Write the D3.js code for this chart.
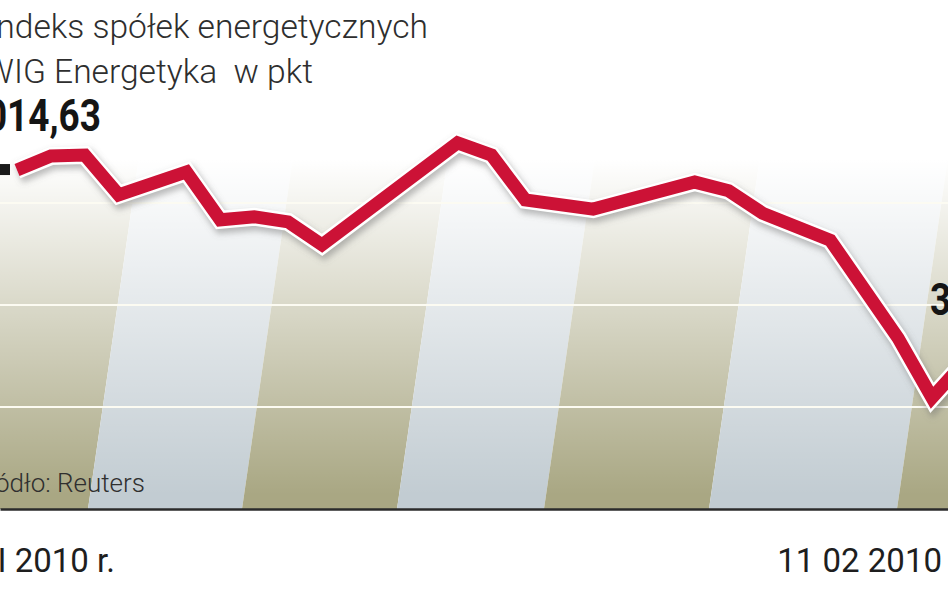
<!DOCTYPE html>
<html><head><meta charset="utf-8">
<script src="https://cdn.jsdelivr.net/npm/d3@7"></script>
<style>html,body{margin:0;padding:0;background:#fff;overflow:hidden}</style>
</head><body>
<svg id="chart" width="948" height="593"></svg>
<script>
// ---- data ----
const titleLines = ["Indeks spółek energetycznych", "WIG Energetyka  w pkt"];
const sourceText = "Źródło: Reuters";
const sessions = [0, 1, 2, 3, 5, 6, 7, 8, 9, 13, 14, 15, 17, 20, 21, 22, 24, 26, 27, 28];
const values = [4014.63, 4042, 4044, 3966, 4011, 3917, 3923, 3913, 3868, 4068, 4044, 3956, 3938, 3991, 3974, 3930, 3877, 3685, 3568, 3641.52];
const dateLabels = ["4 I 2010 r.", "11 02 2010"];
const gridValues = [3550, 3750, 3950];
const baseValue = 3350;

// ---- layout ----
const W = 948, H = 593;
const plotTop = 140, plotBottom = 509;
const stripeEdges = [-80, 88, 242, 397, 544, 709, 897, 1080];
const stripeSlant = 0.145;
const olive = "#a9a783", blue = "#c2ccd2", red = "#cc1236";

const svg = d3.select("#chart");
const defs = svg.append("defs");
const fade = defs.append("linearGradient").attr("id", "fade")
  .attr("gradientUnits", "userSpaceOnUse").attr("x1", 0).attr("x2", 0).attr("y1", 160).attr("y2", 495);
fade.append("stop").attr("offset", 0).attr("stop-color", "#fff").attr("stop-opacity", 1);
fade.append("stop").attr("offset", 1).attr("stop-color", "#fff").attr("stop-opacity", 0);
const blur = defs.append("filter").attr("id", "blur").attr("x", "-10%").attr("y", "-20%").attr("width", "120%").attr("height", "140%");
blur.append("feGaussianBlur").attr("stdDeviation", 3);
defs.append("clipPath").attr("id", "plotClip").append("rect")
  .attr("x", 0).attr("y", plotTop).attr("width", W).attr("height", plotBottom - plotTop);

const x = d3.scaleLinear().domain([0, 27]).range([17, 932]);
const y = d3.scaleLinear().domain([baseValue, 3950]).range([plotBottom, 203]);

// stripes
const gStripes = svg.append("g").attr("clip-path", "url(#plotClip)");
const h = plotBottom - plotTop;
d3.pairs(stripeEdges).forEach(([a, b], i) => {
  gStripes.append("polygon")
    .attr("points", [[a + stripeSlant * h, plotTop], [b + stripeSlant * h, plotTop], [b, plotBottom], [a, plotBottom]].join(" "))
    .attr("fill", i % 2 === 0 ? olive : blue);
});
gStripes.append("rect").attr("x", 0).attr("y", plotTop).attr("width", W).attr("height", h).attr("fill", "url(#fade)");

// grid lines
svg.append("g").selectAll("line").data(gridValues).join("line")
  .attr("x1", 0).attr("x2", W).attr("y1", d => y(d)).attr("y2", d => y(d))
  .attr("stroke", "#fcfbf2").attr("stroke-width", 2.2);

// baseline axis
const axis = svg.append("g").attr("transform", `translate(0,${y(baseValue)})`)
  .call(d3.axisBottom(d3.scaleLinear().range([0, W])).ticks(0).tickSize(0));
axis.select(".domain").attr("stroke", "#2b2b2b").attr("stroke-width", 2.5);
axis.selectAll("text").remove();

// source
svg.append("text").attr("x", 145).attr("y", 492).attr("text-anchor", "end")
  .attr("font-family", "Roboto, 'Liberation Sans', sans-serif").attr("font-weight", 300)
  .attr("font-size", 26).attr("fill", "#2f2f2f").text(sourceText);

// line
const pts = sessions.map((s, i) => [s, values[i]]);
const line = d3.line().x(d => x(d[0])).y(d => y(d[1]));
svg.append("path").attr("d", line(pts)).attr("fill", "none").attr("stroke", "#6d6d6d")
  .attr("stroke-width", 19).attr("stroke-opacity", 0.45).attr("stroke-linejoin", "miter")
  .attr("filter", "url(#blur)").attr("transform", "translate(2,4)");
svg.append("path").attr("d", line(pts)).attr("fill", "none").attr("stroke", "#fff")
  .attr("stroke-width", 18).attr("stroke-linejoin", "miter");
svg.append("path").attr("d", line(pts)).attr("fill", "none").attr("stroke", red)
  .attr("stroke-width", 13).attr("stroke-linejoin", "miter");

// start marker
svg.append("rect").attr("x", x(sessions[0]) - 19).attr("y", y(values[0]) - 6)
  .attr("width", 12).attr("height", 11).attr("fill", "#1a1a1a");

// titles
const titleFont = "Roboto, 'Liberation Sans', sans-serif";
svg.append("text").attr("x", 428).attr("y", 38).attr("text-anchor", "end")
  .attr("font-family", titleFont).attr("font-weight", 300).attr("font-size", 33.6)
  .attr("fill", "#2e2e2e").text(titleLines[0]);
svg.append("text").attr("x", 313).attr("y", 83).attr("text-anchor", "end")
  .attr("font-family", titleFont).attr("font-weight", 300).attr("font-size", 33.6)
  .attr("fill", "#2e2e2e").style("white-space", "pre").text(titleLines[1]);

const fmt = v => d3.format(".2f")(v).replace(".", ",");
// value labels (bold condensed)
svg.append("g").attr("transform", "translate(101,131) scale(0.84,1)")
  .append("text").attr("text-anchor", "end")
  .attr("font-family", "Roboto, 'Liberation Sans', sans-serif").attr("font-weight", 700)
  .attr("font-size", 44).attr("fill", "#151515").text(fmt(values[0]));
svg.append("g").attr("transform", "translate(930,315) scale(0.84,1)")
  .append("text").attr("text-anchor", "start")
  .attr("font-family", "Roboto, 'Liberation Sans', sans-serif").attr("font-weight", 700)
  .attr("font-size", 44).attr("fill", "#151515").text(fmt(values[values.length - 1]));

// date labels
svg.append("text").attr("x", 115).attr("y", 572).attr("text-anchor", "end")
  .attr("font-family", titleFont).attr("font-size", 33).attr("fill", "#1e1e1e").text(dateLabels[0]);
svg.append("text").attr("x", 942).attr("y", 572).attr("text-anchor", "end")
  .attr("font-family", titleFont).attr("font-size", 33).attr("fill", "#1e1e1e").text(dateLabels[1]);
</script>
</body></html>
